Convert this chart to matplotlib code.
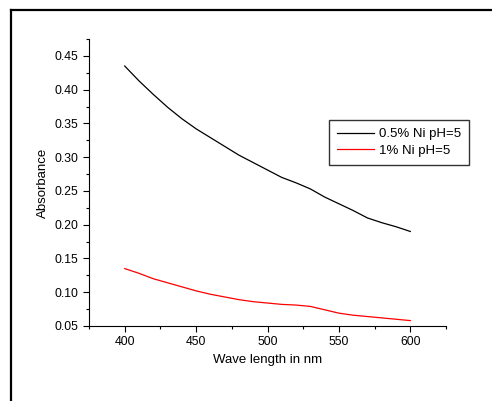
import matplotlib.pyplot as plt
from matplotlib.lines import Line2D
from matplotlib.ticker import MultipleLocator

wavelength = [400, 410, 420, 430, 440, 450, 460, 470, 480, 490, 500,
              510, 520, 530, 540, 550, 560, 570, 580, 590, 600]
ni_05 = [0.435, 0.413, 0.393, 0.374, 0.357, 0.342, 0.329, 0.316, 0.303, 0.292, 0.281,
         0.270, 0.262, 0.253, 0.241, 0.231, 0.221, 0.210, 0.203, 0.197, 0.190]
ni_1 = [0.135, 0.128, 0.120, 0.114, 0.108, 0.102, 0.097, 0.093, 0.089, 0.086, 0.084,
        0.082, 0.081, 0.079, 0.074, 0.069, 0.066, 0.064, 0.062, 0.060, 0.058]

plt.rcParams['font.family'] = ['Liberation Sans', 'DejaVu Sans']

fig = plt.figure(figsize=(4.92, 4.01), dpi=100)
ax = fig.add_axes([89/492, 1-326/401, (446-89)/492, (326-39)/401])

ax.plot(wavelength, ni_05, color='black', lw=0.9, label='0.5% Ni pH=5')
ax.plot(wavelength, ni_1, color='red', lw=0.9, label='1% Ni pH=5')

ax.set_xlim(375, 625)
ax.set_ylim(0.05, 0.475)
ax.xaxis.set_major_locator(MultipleLocator(50))
ax.xaxis.set_minor_locator(MultipleLocator(25))
ax.yaxis.set_major_locator(MultipleLocator(0.05))
ax.yaxis.set_minor_locator(MultipleLocator(0.025))
ax.yaxis.set_major_formatter(plt.FormatStrFormatter('%.2f'))
ax.tick_params(which='major', direction='out', length=4, width=0.8, labelsize=8.8)
ax.tick_params(which='minor', direction='out', length=2.5, width=0.8)
ax.spines['top'].set_visible(False)
ax.spines['right'].set_visible(False)
ax.set_xlabel('Wave length in nm', fontsize=9.5)
ax.set_ylabel('Absorbance', fontsize=9.5)

leg = ax.legend(loc='upper left', bbox_to_anchor=((329-89)/357, 1-(120-39)/287),
                fontsize=9.5, frameon=True, fancybox=False, borderaxespad=0,
                handlelength=2.8, handletextpad=0.4, labelspacing=0.35,
                borderpad=0.6)
leg.get_frame().set_edgecolor('black')
leg.get_frame().set_linewidth(1.0)

# outer frame (clipped at right and bottom)
fig.add_artist(Line2D([11/492, 1], [1-10/401, 1-10/401], color='black', lw=1.6,
                      transform=fig.transFigure))
fig.add_artist(Line2D([11/492, 11/492], [1-10/401, 0], color='black', lw=1.6,
                      transform=fig.transFigure))

fig.savefig('out.png', dpi=100)
